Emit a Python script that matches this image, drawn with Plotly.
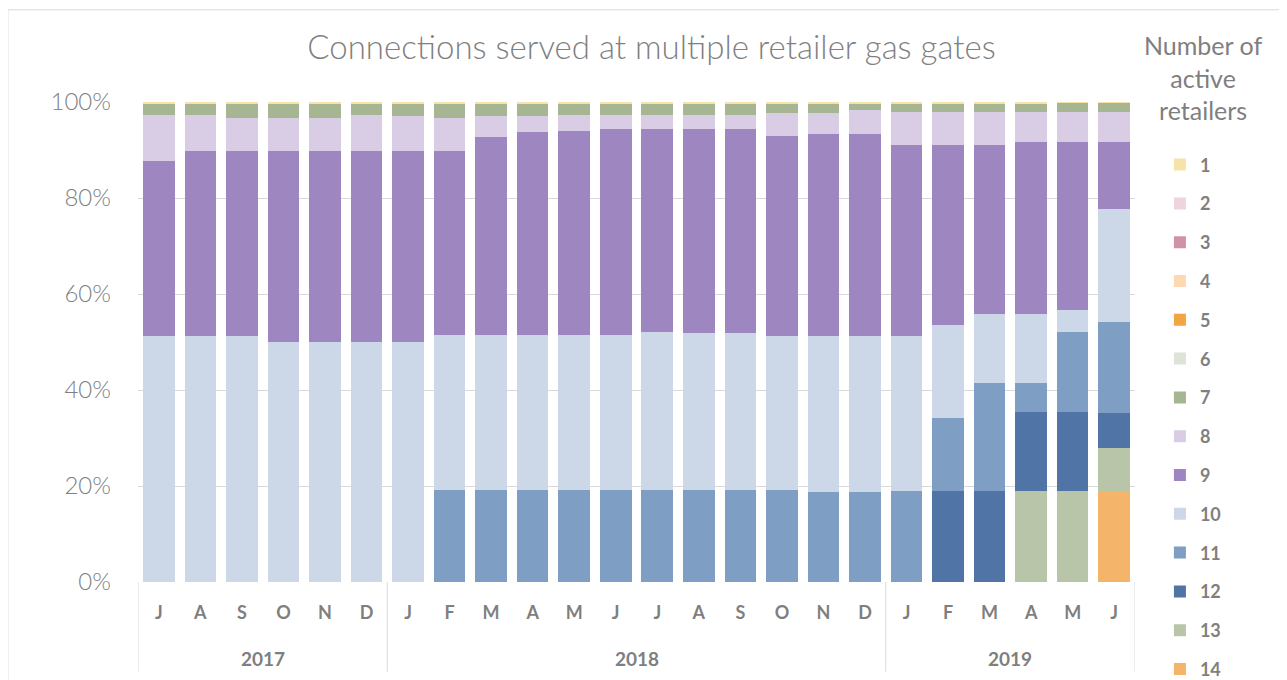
import plotly.graph_objects as go

# ---------------- data ----------------
categories = ["2017-07", "2017-08", "2017-09", "2017-10", "2017-11", "2017-12",
              "2018-01", "2018-02", "2018-03", "2018-04", "2018-05", "2018-06",
              "2018-07", "2018-08", "2018-09", "2018-10", "2018-11", "2018-12",
              "2019-01", "2019-02", "2019-03", "2019-04", "2019-05", "2019-06"]
month_labels = ["J", "A", "S", "O", "N", "D",
                "J", "F", "M", "A", "M", "J", "J", "A", "S", "O", "N", "D",
                "J", "F", "M", "A", "M", "J"]
year_labels = ["2017", "2017", "2017", "2017", "2017", "2017",
               "2018", "2018", "2018", "2018", "2018", "2018",
               "2018", "2018", "2018", "2018", "2018", "2018",
               "2019", "2019", "2019", "2019", "2019", "2019"]

r1 = [0.5, 0.5, 0.5, 0.5, 0.5, 0.5, 0.5, 0.5, 0.5, 0.5, 0.5, 0.5,
      0.5, 0.5, 0.5, 0.5, 0.5, 0.5, 0.5, 0.5, 0.5, 0.5, 0.2, 0.2]
r2 = [0, 0, 0, 0, 0, 0, 0, 0, 0, 0, 0, 0, 0, 0, 0, 0, 0, 0, 0, 0, 0, 0, 0, 0]
r3 = [0, 0, 0, 0, 0, 0, 0, 0, 0, 0, 0, 0, 0, 0, 0, 0, 0, 0, 0, 0, 0, 0, 0, 0]
r4 = [0, 0, 0, 0, 0, 0, 0, 0, 0, 0, 0, 0, 0, 0, 0, 0, 0, 0, 0, 0, 0, 0, 0, 0]
r5 = [0, 0, 0, 0, 0, 0, 0, 0, 0, 0, 0, 0, 0, 0, 0, 0, 0, 0, 0, 0, 0, 0, 0, 0]
r6 = [0, 0, 0, 0, 0, 0, 0, 0, 0, 0, 0, 0, 0, 0, 0, 0, 0, 0, 0, 0, 0, 0, 0, 0]
r7 = [2.2, 2.2, 2.8, 2.8, 2.8, 2.2, 2.5, 2.8, 2.5, 2.4, 2.2, 2.2,
      2.2, 2.2, 2.2, 1.8, 1.8, 1.2, 1.5, 1.5, 1.5, 1.5, 1.8, 1.8]
r8 = [9.5, 7.6, 7.0, 7.0, 7.0, 7.6, 7.3, 7.0, 4.3, 3.4, 3.3, 3.0,
      3.0, 3.0, 3.0, 4.7, 4.3, 4.9, 7.0, 7.0, 7.0, 6.4, 6.4, 6.4]
r9 = [36.5, 38.4, 38.4, 39.7, 39.7, 39.7, 39.7, 38.2, 41.2, 42.2, 42.5, 42.8,
      42.2, 42.4, 42.4, 41.8, 42.1, 42.1, 39.8, 37.5, 35.2, 35.8, 34.9, 13.8]
r10 = [51.3, 51.3, 51.3, 50.0, 50.0, 50.0, 50.0, 32.4, 32.4, 32.4, 32.4, 32.4,
       33.0, 32.8, 32.8, 32.2, 32.5, 32.5, 32.4, 19.4, 14.4, 14.4, 4.6, 23.6]
r11 = [0, 0, 0, 0, 0, 0, 0, 19.1, 19.1, 19.1, 19.1, 19.1,
       19.1, 19.1, 19.1, 19.1, 18.8, 18.8, 18.9, 15.2, 22.5, 6.0, 16.7, 18.9]
r12 = [0, 0, 0, 0, 0, 0, 0, 0, 0, 0, 0, 0,
       0, 0, 0, 0, 0, 0, 0, 18.9, 18.9, 16.5, 16.5, 7.3]
r13 = [0, 0, 0, 0, 0, 0, 0, 0, 0, 0, 0, 0,
       0, 0, 0, 0, 0, 0, 0, 0, 0, 18.9, 18.9, 9.1]
r14 = [0, 0, 0, 0, 0, 0, 0, 0, 0, 0, 0, 0,
       0, 0, 0, 0, 0, 0, 0, 0, 0, 0, 0, 18.9]

series_names = ["1", "2", "3", "4", "5", "6", "7", "8", "9", "10", "11", "12", "13", "14"]
series_values = [r1, r2, r3, r4, r5, r6, r7, r8, r9, r10, r11, r12, r13, r14]
series_colors = ["#F6E3A9", "#EFD3DD", "#CF92A7", "#FCD9B3", "#F3A545", "#DDE3D6", "#A6B592",
                 "#D8CDE5", "#9E86C1", "#CCD8E8", "#7F9EC3", "#4F74A5", "#B8C5A9", "#F4B46A"]

GREY = "#7F7F7F"
FONT = "Lato"

fig = go.Figure()
# stack from 14 (bottom) to 1 (top); legend rank keeps 1 at the top of the legend
for rank, (name, vals, col) in reversed(list(enumerate(zip(series_names, series_values, series_colors)))):
    fig.add_trace(go.Bar(
        x=categories, y=vals, name=name, legendgroup=name, legendrank=rank + 1,
        marker=dict(color=col, line=dict(width=0)),
        hovertemplate="%{x}: %{y:.1f}%<extra>" + name + "</extra>",
    ))

# year group dividers and labels
shapes = []
annotations = []
n = len(categories)
bounds = [0]
for i in range(1, n):
    if year_labels[i] != year_labels[i - 1]:
        bounds.append(i)
bounds.append(n)
for b in bounds:
    shapes.append(dict(type="line", xref="x", yref="paper", x0=b - 0.5, x1=b - 0.5,
                       y0=0, y1=-0.187, line=dict(color="#D9D9D9", width=1)))
for a, b in zip(bounds[:-1], bounds[1:]):
    annotations.append(dict(xref="x", yref="paper", x=(a + b - 1) / 2, y=-0.16,
                            text=year_labels[a], showarrow=False, yanchor="middle",
                            font=dict(family=FONT, size=19, color=GREY, weight="bold")))

# legend title as text
annotations.append(dict(xref="paper", yref="paper", x=1.068, y=1.154, xanchor="center",
                        yanchor="top", showarrow=False, align="center",
                        text="Number of<br>active<br>retailers",
                        font=dict(family=FONT, size=25, color=GREY)))

# outer chart border
shapes.append(dict(type="rect", xref="paper", yref="paper", x0=-0.1305, x1=1.2,
                   y0=-0.3, y1=1.192, line=dict(color="#D9D9D9", width=1),
                   fillcolor="rgba(0,0,0,0)", layer="below"))

fig.update_layout(
    width=1287, height=680,
    margin=dict(l=130, r=160, t=94, b=106, autoexpand=False),
    paper_bgcolor="white", plot_bgcolor="white",
    barmode="stack", barnorm="percent", bargap=0.24,
    title=dict(text="Connections served at multiple retailer gas gates",
               x=0.5, xref="container", xanchor="center",
               y=(680 - 39) / 680, yref="container", yanchor="middle",
               font=dict(family=FONT, size=33, color=GREY, weight=300)),
    legend=dict(x=1.025, xanchor="left", y=0.9075, yanchor="top",
                traceorder="grouped", tracegroupgap=12.4, maxheight=900,
                font=dict(family=FONT, size=18, color=GREY, weight="bold"),
                bgcolor="rgba(0,0,0,0)"),
    xaxis=dict(type="category", tickmode="array", tickvals=categories, ticktext=month_labels,
               showgrid=False, showline=False, ticks="", ticklabelstandoff=18,
               tickfont=dict(family=FONT, size=18, color=GREY, weight="bold"),
               range=[-0.5, n - 0.5]),
    yaxis=dict(range=[0, 100], tickvals=[0, 20, 40, 60, 80, 100],
               ticktext=["0%", "20%", "40%", "60%", "80%", "100%"],
               showgrid=True, gridcolor="#D9D9D9", gridwidth=1, zeroline=False,
               showline=False, ticks="", ticklabelstandoff=26,
               tickfont=dict(family=FONT, size=24, color=GREY, weight=300)),
    shapes=shapes, annotations=annotations,
    showlegend=True,
)

fig.write_html("out.html")
